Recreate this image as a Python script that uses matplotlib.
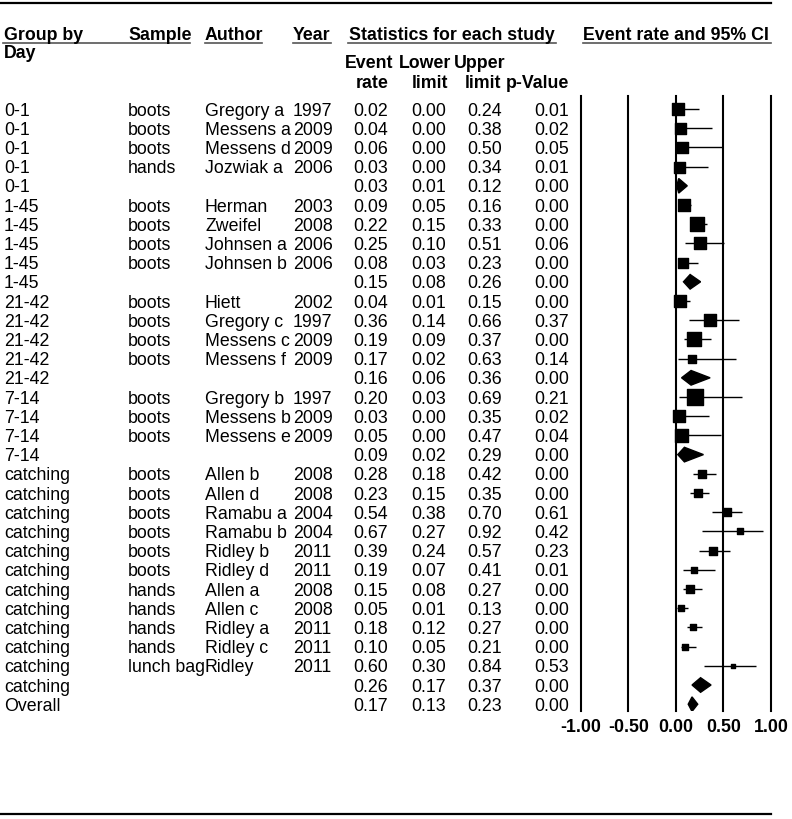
import matplotlib
matplotlib.use('Agg')
import matplotlib.pyplot as plt
from matplotlib.lines import Line2D
from matplotlib.patches import Polygon

plt.rcParams['font.family'] = ['Liberation Sans', 'DejaVu Sans']

# 数据
groups = ['0-1'] * 5 + ['1-45'] * 5 + ['21-42'] * 5 + ['7-14'] * 4 + ['catching'] * 12 + ['Overall']
samples = ['boots', 'boots', 'boots', 'hands', '',
           'boots', 'boots', 'boots', 'boots', '',
           'boots', 'boots', 'boots', 'boots', '',
           'boots', 'boots', 'boots', '',
           'boots', 'boots', 'boots', 'boots', 'boots', 'boots',
           'hands', 'hands', 'hands', 'hands', 'lunch bag', '',
           '']
authors = ['Gregory a', 'Messens a', 'Messens d', 'Jozwiak a', '',
           'Herman', 'Zweifel', 'Johnsen a', 'Johnsen b', '',
           'Hiett', 'Gregory c', 'Messens c', 'Messens f', '',
           'Gregory b', 'Messens b', 'Messens e', '',
           'Allen b', 'Allen d', 'Ramabu a', 'Ramabu b', 'Ridley b', 'Ridley d',
           'Allen a', 'Allen c', 'Ridley a', 'Ridley c', 'Ridley', '',
           '']
years = ['1997', '2009', '2009', '2006', '',
         '2003', '2008', '2006', '2006', '',
         '2002', '1997', '2009', '2009', '',
         '1997', '2009', '2009', '',
         '2008', '2008', '2004', '2004', '2011', '2011',
         '2008', '2008', '2011', '2011', '2011', '',
         '']
event_rate = [0.02, 0.04, 0.06, 0.03, 0.03,
              0.09, 0.22, 0.25, 0.08, 0.15,
              0.04, 0.36, 0.19, 0.17, 0.16,
              0.20, 0.03, 0.05, 0.09,
              0.28, 0.23, 0.54, 0.67, 0.39, 0.19, 0.15, 0.05, 0.18, 0.10, 0.60, 0.26,
              0.17]
lower = [0.00, 0.00, 0.00, 0.00, 0.01,
         0.05, 0.15, 0.10, 0.03, 0.08,
         0.01, 0.14, 0.09, 0.02, 0.06,
         0.03, 0.00, 0.00, 0.02,
         0.18, 0.15, 0.38, 0.27, 0.24, 0.07, 0.08, 0.01, 0.12, 0.05, 0.30, 0.17,
         0.13]
upper = [0.24, 0.38, 0.50, 0.34, 0.12,
         0.16, 0.33, 0.51, 0.23, 0.26,
         0.15, 0.66, 0.37, 0.63, 0.36,
         0.69, 0.35, 0.47, 0.29,
         0.42, 0.35, 0.70, 0.92, 0.57, 0.41, 0.27, 0.13, 0.27, 0.21, 0.84, 0.37,
         0.23]
p_value = [0.01, 0.02, 0.05, 0.01, 0.00,
           0.00, 0.00, 0.06, 0.00, 0.00,
           0.00, 0.37, 0.00, 0.14, 0.00,
           0.21, 0.02, 0.04, 0.00,
           0.00, 0.00, 0.61, 0.42, 0.23, 0.01, 0.00, 0.00, 0.00, 0.00, 0.53, 0.00,
           0.00]
# 相对权重（方块大小），汇总行为 None
weights = [11.5, 11, 11, 11, None,
           11.7, 13.3, 11.3, 10.3, None,
           11.7, 11.7, 13.3, 8.3, None,
           16.7, 12.3, 13, None,
           8, 8, 8.3, 5.7, 8, 6.3, 7.3, 6.7, 6.7, 6.7, 5, None,
           None]
ticks = [-1.0, -0.5, 0.0, 0.5, 1.0]

W, H = 792, 820
FS = 12.8
n = len(groups)
row0, dy = 110, 19.2


def fy(y):
    return 1 - y / H


fig = plt.figure(figsize=(W / 100, H / 100), dpi=100)

# y 方向：行号
top_px, bot_px = 97, 712
ylim = ((bot_px - row0) / dy, (top_px - row0) / dy)

ax_t = fig.add_axes([0, fy(bot_px), 580 / W, (bot_px - top_px) / H])
ax_t.set_xlim(0, 580)
ax_t.set_ylim(*ylim)
ax_t.axis('off')

ax = fig.add_axes([580.7 / W, fy(bot_px), (771 - 580.7) / W, (bot_px - top_px) / H])
ax.set_xlim(-1, 1)
ax.set_ylim(*ylim)
for s in ax.spines.values():
    s.set_visible(False)
ax.set_yticks([])
ax.set_xticks(ticks, ['%.2f' % t for t in ticks], fontweight='bold', fontsize=FS)
ax.tick_params(axis='x', length=0, pad=5)
for t in ticks:
    ax.axvline(t, color='black', lw=1.5, clip_on=False)

# 表格文本
base = 0.29
for i in range(n):
    yb = i + base
    ax_t.text(4, yb, groups[i], fontsize=FS, va='baseline')
    ax_t.text(128, yb, samples[i], fontsize=FS, va='baseline')
    ax_t.text(205, yb, authors[i], fontsize=FS, va='baseline')
    ax_t.text(293, yb, years[i], fontsize=FS, va='baseline')
    ax_t.text(388, yb, '%.2f' % event_rate[i], fontsize=FS, va='baseline', ha='right')
    ax_t.text(446, yb, '%.2f' % lower[i], fontsize=FS, va='baseline', ha='right')
    ax_t.text(502, yb, '%.2f' % upper[i], fontsize=FS, va='baseline', ha='right')
    ax_t.text(569, yb, '%.2f' % p_value[i], fontsize=FS, va='baseline', ha='right')

# 森林图
for i in range(n):
    if weights[i] is None:
        h = 0.38
        ax.add_patch(Polygon([(lower[i], i), (event_rate[i], i - h),
                              (upper[i], i), (event_rate[i], i + h)],
                             closed=True, color='black'))
    else:
        ax.hlines(i, lower[i], upper[i], color='black', lw=1)
        ax.scatter(event_rate[i], i, marker='s', s=(weights[i] * 0.72) ** 2,
                   color='black', zorder=3)

# 表头
hdr = dict(fontsize=FS, fontweight='bold', va='center')
fig.text(4 / W, fy(35), 'Group by', **hdr)
fig.text(4 / W, fy(53), 'Day', **hdr)
fig.text(128 / W, fy(35), 'Sample', **hdr)
fig.text(205 / W, fy(35), 'Author', **hdr)
fig.text(293 / W, fy(35), 'Year', **hdr)
fig.text(452 / W, fy(35), 'Statistics for each study', ha='center', **hdr)
fig.text(676 / W, fy(35), 'Event rate and 95% CI', ha='center', **hdr)
fig.text(369 / W, fy(64), 'Event', ha='center', **hdr)
fig.text(425 / W, fy(64), 'Lower', ha='center', **hdr)
fig.text(480 / W, fy(64), 'Upper', ha='center', **hdr)
fig.text(372 / W, fy(83), 'rate', ha='center', **hdr)
fig.text(430 / W, fy(83), 'limit', ha='center', **hdr)
fig.text(483 / W, fy(83), 'limit', ha='center', **hdr)
fig.text(569 / W, fy(83), 'p-Value', ha='right', **hdr)

# 下划线和横线
for x0, x1 in [(3, 190), (205, 262), (293, 331), (348, 556), (583, 771)]:
    fig.add_artist(Line2D([x0 / W, x1 / W], [fy(44), fy(44)], color='#555555', lw=1.2))
for y in [4, 815]:
    fig.add_artist(Line2D([0, 771 / W], [fy(y), fy(y)], color='black', lw=1.6))

plt.savefig('out.png', dpi=100)
